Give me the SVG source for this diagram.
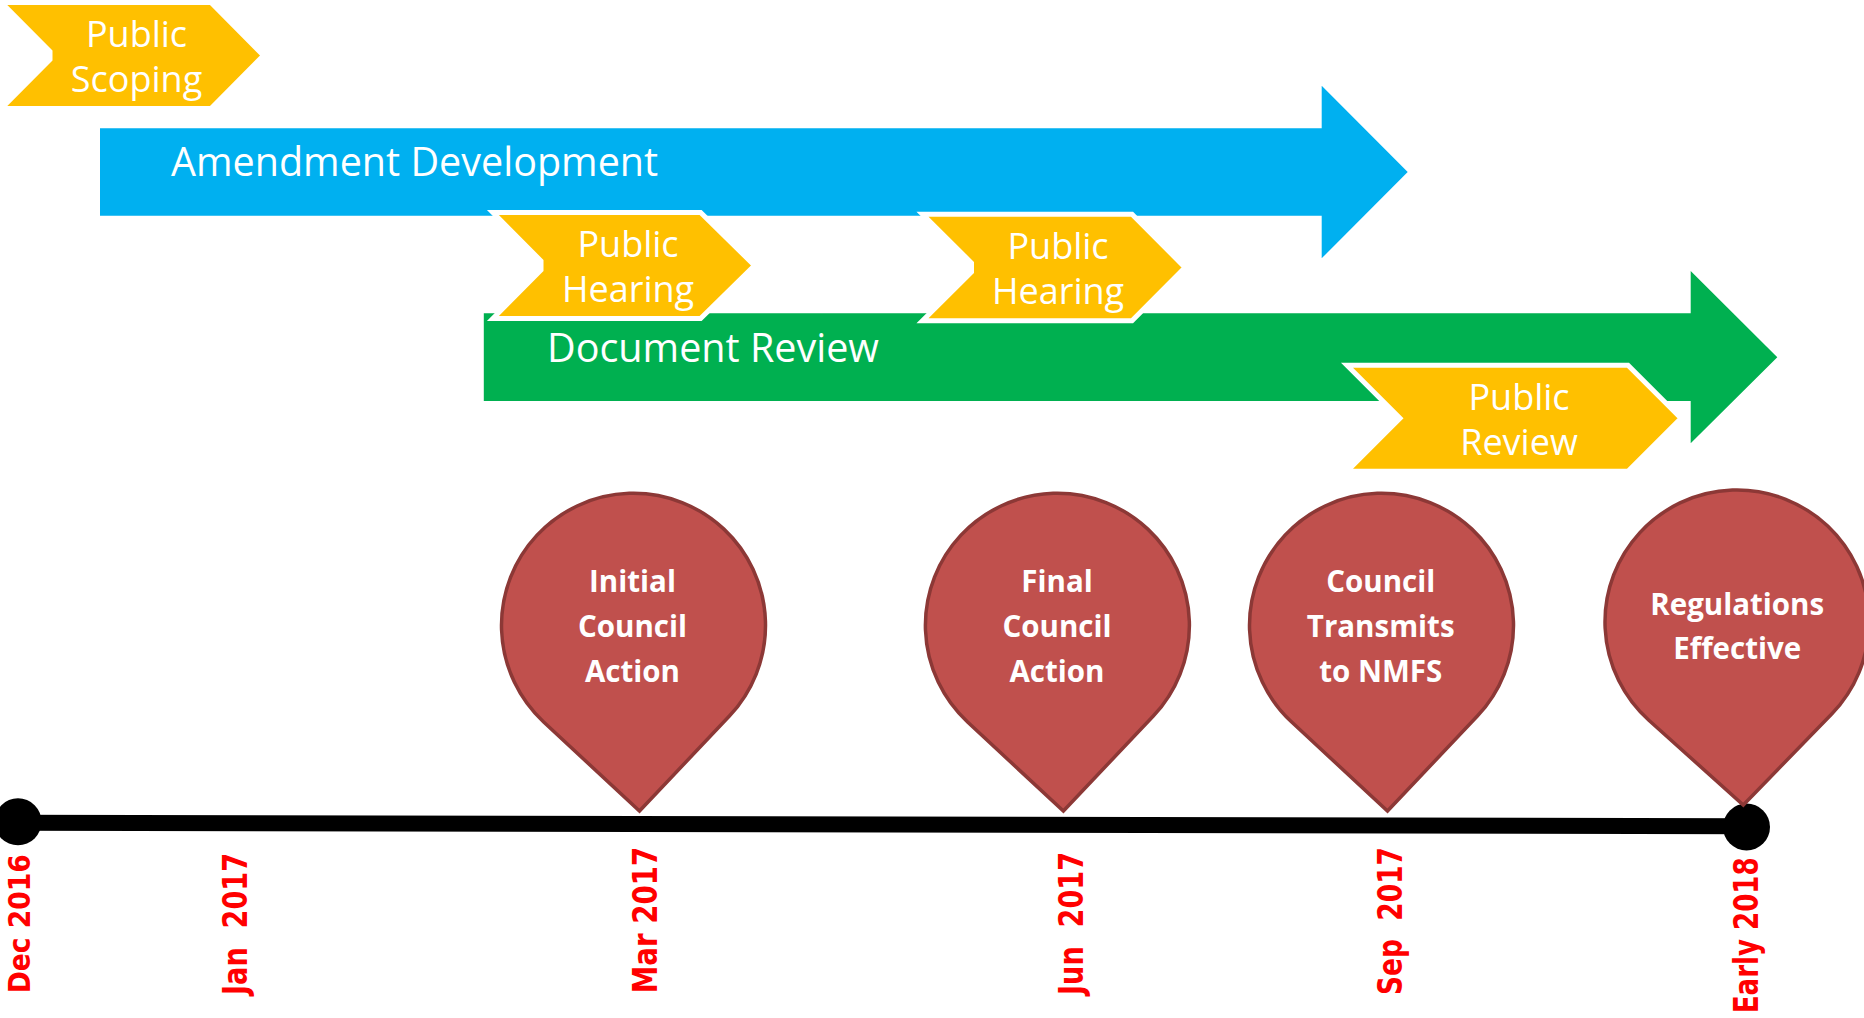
<svg xmlns="http://www.w3.org/2000/svg" width="1864" height="1018" viewBox="0 0 1864 1018">
<style>
.chev{fill:#FFC000;stroke:#FFFFFF;stroke-width:5;stroke-linejoin:miter}
.ctext{font-family:"Open Sans","Noto Sans","DejaVu Sans",sans-serif;font-size:36px;fill:#FFFFFF;text-anchor:middle}
.btext{font-family:"Open Sans","Noto Sans","DejaVu Sans",sans-serif;font-size:39.5px;fill:#FFFFFF}
.pin{fill:#C0504D;stroke:#8C3836;stroke-width:3.5;stroke-linejoin:miter}
.ptext{font-family:"Open Sans","Noto Sans","DejaVu Sans",sans-serif;font-size:29.5px;font-weight:bold;fill:#FFFFFF;text-anchor:middle}
.date{font-family:"DejaVu Sans","Verdana",sans-serif;font-size:34px;font-weight:bold;fill:#FF0000;white-space:pre}
</style>
<rect x="0" y="0" width="1864" height="1018" fill="#FFFFFF"/>

<g id="amendment-development">
<polygon points="100,128.3 1321.7,128.3 1321.7,85.7 1407.7,172 1321.7,258.3 1321.7,215.7 100,215.7" fill="#00B0F0"/>
<text class="btext" x="171" y="176">Amendment Development</text>
</g>

<g id="document-review">
<polygon points="483.8,313.3 1690.7,313.3 1690.7,271 1777.3,357.2 1690.7,443.3 1690.7,401 483.8,401" fill="#00B050"/>
<text class="btext" x="547" y="361.7">Document Review</text>
</g>

<g id="public-scoping">
<polygon class="chev" points="1.3,2.5 211,2.5 263.5,55.5 211,108.5 1.3,108.5 50,59.5 50,51.5"/>
<text class="ctext" x="136.5" y="46.7">Public</text>
<text class="ctext" x="136.5" y="91.7">Scoping</text>
</g>

<g id="public-hearing-1">
<polygon class="chev" points="492.9,212.5 700.6,212.5 754.5,265.5 700.6,318.5 492.9,318.5 541,270 541,261"/>
<text class="ctext" x="628" y="256.7">Public</text>
<text class="ctext" x="628" y="301.7">Hearing</text>
</g>

<g id="public-hearing-2">
<polygon class="chev" points="922.5,214.2 1132,214.2 1185,267.5 1132,320.8 922.5,320.8 971.5,272 971.5,263"/>
<text class="ctext" x="1058" y="259">Public</text>
<text class="ctext" x="1058" y="304">Hearing</text>
</g>

<g id="public-review">
<polygon class="chev" points="1347,365.3 1628,365.3 1681,418.25 1628,471.2 1347,471.2 1400,418.25"/>
<text class="ctext" x="1519" y="410">Public</text>
<text class="ctext" x="1519" y="455">Review</text>
</g>

<g id="timeline">
<line x1="18" y1="822.8" x2="1746" y2="826.2" stroke="#000000" stroke-width="16"/>
<circle cx="18" cy="821.8" r="23.5" fill="#000000"/>
<circle cx="1746.5" cy="827" r="23.5" fill="#000000"/>
</g>

<g id="initial-council-action">
<path class="pin" d="M639.5,811 L729.38,716.03 A132,132 0 1 0 543.68,722.03 Z"/>
<text class="ptext" x="632.5" y="591.5">Initial</text>
<text class="ptext" x="632.5" y="637.3">Council</text>
<text class="ptext" x="632.5" y="681.7">Action</text>
</g>

<g id="final-council-action">
<path class="pin" d="M1063.4,811 L1153.28,716.03 A132,132 0 1 0 967.58,722.03 Z"/>
<text class="ptext" x="1057" y="591.5">Final</text>
<text class="ptext" x="1057" y="637.3">Council</text>
<text class="ptext" x="1057" y="681.7">Action</text>
</g>

<g id="council-transmits">
<path class="pin" d="M1387.5,811 L1477.38,716.03 A132,132 0 1 0 1291.68,722.03 Z"/>
<text class="ptext" x="1380.7" y="591.5">Council</text>
<text class="ptext" x="1380.7" y="637.3">Transmits</text>
<text class="ptext" x="1380.7" y="681.7">to NMFS</text>
</g>

<g id="regulations-effective">
<path class="pin" d="M1743.3,805 L1831.7,713.96 A132,132 0 1 0 1648.85,720.26 Z"/>
<text class="ptext" x="1737.2" y="615">Regulations</text>
<text class="ptext" x="1737.2" y="659.3">Effective</text>
</g>

<g id="dates">
<text class="date" style="font-size:31px" transform="translate(30,993.3) rotate(-90)" textLength="139" lengthAdjust="spacingAndGlyphs">Dec 2016</text>
<text class="date" transform="translate(247,995) rotate(-90)" textLength="142" lengthAdjust="spacingAndGlyphs">Jan  2017</text>
<text class="date" transform="translate(657,993.3) rotate(-90)" textLength="146.7" lengthAdjust="spacingAndGlyphs">Mar 2017</text>
<text class="date" transform="translate(1082.5,995) rotate(-90)" textLength="143" lengthAdjust="spacingAndGlyphs">Jun  2017</text>
<text class="date" transform="translate(1401.5,995) rotate(-90)" textLength="148" lengthAdjust="spacingAndGlyphs">Sep  2017</text>
<text class="date" transform="translate(1757.7,1013.3) rotate(-90)" textLength="156" lengthAdjust="spacingAndGlyphs">Early 2018</text>
</g>
</svg>
